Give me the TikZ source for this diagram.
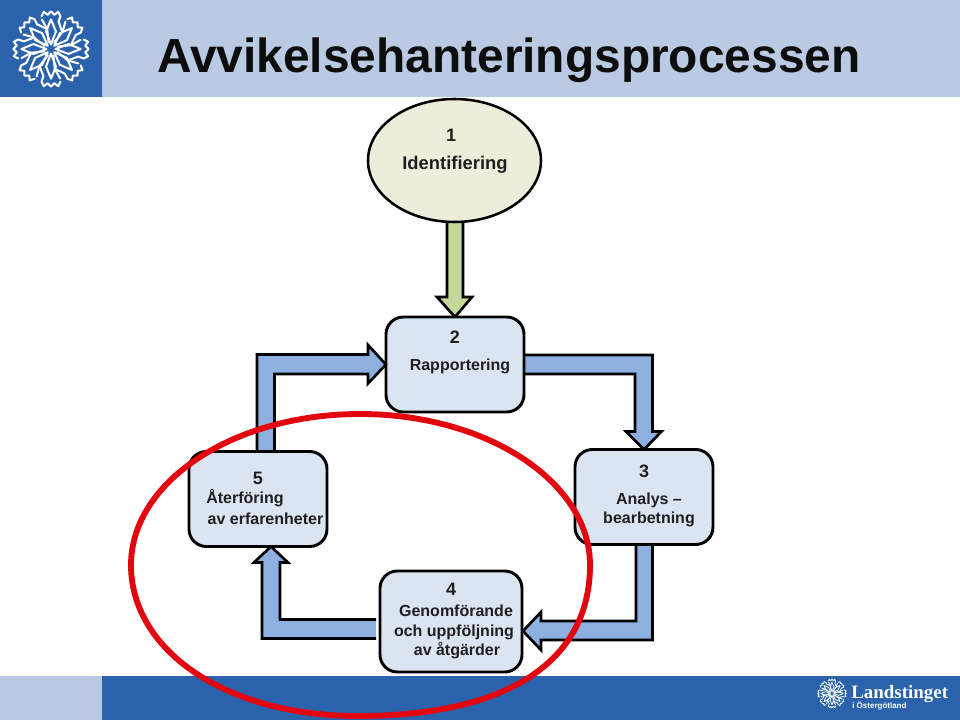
\documentclass[tikz,border=0pt]{standalone}
\usepackage{fontspec}
\setmainfont{Liberation Sans}
\newfontfamily\logoserif{Liberation Serif}
\usetikzlibrary{shapes.geometric,calc,backgrounds}
\definecolor{headlight}{HTML}{BACAE2}
\definecolor{brandblue}{HTML}{2A63AB}
\definecolor{boxfill}{HTML}{DBE5F2}
\definecolor{ovalfill}{HTML}{EEECDA}
\definecolor{arrowblue}{HTML}{8DB0E0}
\definecolor{arrowgreen}{HTML}{C5D89C}
\definecolor{ringred}{HTML}{E3060F}
\tikzset{
  stagebox/.style={draw=black,fill=boxfill,line width=2.2pt,rounded corners=13pt,minimum width=103.5pt,outer sep=0pt,inner sep=0pt},
  stageoval/.style={ellipse,draw=black,fill=ovalfill,line width=1.9pt,minimum width=129.75pt,minimum height=92.25pt,outer sep=0pt,inner sep=0pt},
  lbl/.style={font=\bfseries\fontsize{12}{14}\selectfont,anchor=base,inner sep=0pt,text=black!88},
  numlbl/.style={lbl,font=\bfseries\fontsize{13.5}{16}\selectfont},
  bluearrow/.style={draw=black,fill=arrowblue,line width=2pt,line join=miter},
  greenarrow/.style={draw=black,fill=arrowgreen,line width=2pt,line join=miter},
  flakeline/.style={draw=white,line width=#1,line join=round,line cap=round},
}
\newcommand{\flake}[4]{%
  \foreach \a in {0,45,...,315}{
    \begin{scope}[shift={(#1,#2)},x=#3,y=#3,rotate=\a]
      \draw[flakeline=#4] (0,.12) -- (.13,.46) -- (0,.78) -- (-.13,.46) -- cycle;
      \draw[flakeline=#4] (.08,.17) -- (.30,.44) -- (.20,.72) -- (.25,.86) -- (.19,.98) -- (.09,.90) -- (0,.99) -- (-.09,.90) -- (-.19,.98) -- (-.25,.86);
      \draw[flakeline=#4] (.30,.44) -- (.38,.72);
    \end{scope}}
}
\begin{document}
\begin{tikzpicture}[x=0.75pt,y=-0.75pt]
\useasboundingbox (0,0) rectangle (960,720);
% stage nodes
\node[stageoval] (n1) at (454.5,160.5) {};
\node[stagebox,minimum height=71.25pt] (n2) at (455,364.5) {};
\node[stagebox,minimum height=71.25pt] (n3) at (644,497) {};
\node[stagebox,minimum width=106.5pt,minimum height=75.75pt] (n4) at (451,621.5) {};
\node[stagebox,minimum height=71.25pt] (n5) at (258,499) {};
% header, footer and connectors behind the nodes
\begin{scope}[on background layer]
  \fill[headlight] (0,0) rectangle (960,97);
  \fill[brandblue] (0,0) rectangle (102,97);
  \fill[brandblue] (0,676) rectangle (960,720);
  \fill[headlight] (0,676) rectangle (102,720);
  \draw[greenarrow] ($(n1.south)+(-7.5,-2)$) -- ($(n2.north)+(-8,-20)$) -- ($(n2.north)+(-18,-20)$) -- (n2.north)
    -- ($(n2.north)+(17,-20)$) -- ($(n2.north)+(8,-20)$) -- ($(n1.south)+(8.5,-2)$) -- cycle;
  \draw[bluearrow] ($(n5.north)+(-1,2)$) -- ($(n5.north)+(-1,-97)$) -- ($(n2.west)+(-18,-10)$) -- ($(n2.west)+(-18,-19.5)$) -- (n2.west)
    -- ($(n2.west)+(-18,19)$) -- ($(n2.west)+(-18,9.5)$) -- ($(n5.north)+(16.5,-77.5)$) -- ($(n5.north)+(16.5,2)$) -- cycle;
  \draw[bluearrow] ($(n2.east)+(-2,-9.5)$) -- ($(n3.north)+(8.5,-94.5)$) -- ($(n3.north)+(8.5,-18)$) -- ($(n3.north)+(17.5,-18)$) -- (n3.north)
    -- ($(n3.north)+(-18,-18)$) -- ($(n3.north)+(-9,-18)$) -- ($(n2.east)+(111,9.5)$) -- ($(n2.east)+(-2,9.5)$) -- cycle;
  \draw[bluearrow] ($(n3.south)+(-8,-2)$) -- ($(n4.east)+(114,-0.5)$) -- ($(n4.east)+(19,-0.5)$) -- ($(n4.east)+(19,-9.5)$) -- ($(n4.east)+(1,9.5)$)
    -- ($(n4.east)+(19,28.5)$) -- ($(n4.east)+(19,18.5)$) -- ($(n3.south)+(8.5,95.5)$) -- ($(n3.south)+(8.5,-2)$) -- cycle;
  \draw[bluearrow] ($(n4.west)+(-4,-2)$) -- ($(n5.south)+(22,73)$) -- ($(n5.south)+(22,16)$) -- ($(n5.south)+(30,16)$) -- ($(n5.south)+(13,0)$)
    -- ($(n5.south)+(-4,16)$) -- ($(n5.south)+(4,16)$) -- ($(n5.south)+(4,92)$) -- ($(n4.west)+(-4,17)$);
\end{scope}
% logos
\flake{51}{49}{28.5pt}{1.5pt}
\flake{832}{693.5}{10.8pt}{.6pt}
% texts
\node[anchor=base west,inner sep=0pt,font=\bfseries\fontsize{35.9}{42}\selectfont,text=black!95] (title) at (157,73) {Avvikelsehanteringsprocessen};
\node[numlbl] (t1a) at (451,141.5) {1};
\node[lbl,font=\bfseries\fontsize{13.8}{16}\selectfont] (t1b) at (455,169.5) {Identifiering};
\node[numlbl] (t2a) at (455,343) {2};
\node[lbl] (t2b) at (460,370) {Rapportering};
\node[numlbl] (t3a) at (644,477) {3};
\node[lbl] (t3b) at (649,504) {Analys –};
\node[lbl] (t3c) at (649,523) {bearbetning};
\node[numlbl] (t4a) at (451,595) {4};
\node[lbl] (t4b) at (456,616) {Genomförande};
\node[lbl] (t4c) at (454,636) {och uppföljning};
\node[lbl] (t4d) at (457,655) {av åtgärder};
\node[numlbl] (t5a) at (258,484) {5};
\node[lbl] (t5b) at (245,503) {Återföring};
\node[lbl] (t5c) at (265.5,524) {av erfarenheter};
\node[anchor=base west,inner sep=0pt,text=white,font=\logoserif\bfseries\fontsize{14.2}{18}\selectfont] (brand) at (851,698.5) {Landstinget};
\node[anchor=base west,inner sep=0pt,text=white,font=\bfseries\fontsize{6}{7}\selectfont] (brandsub) at (852,708.5) {i Östergötland};
% red ring on top
\draw[ringred,line width=4.4pt] (360,414)
  .. controls (487,414) and (590,482) .. (590,565)
  .. controls (590,662) and (507,716) .. (358,716)
  .. controls (225,716) and (131,650) .. (131,565)
  .. controls (131,482) and (233,414) .. (360,414) -- cycle;
\end{tikzpicture}
\end{document}
